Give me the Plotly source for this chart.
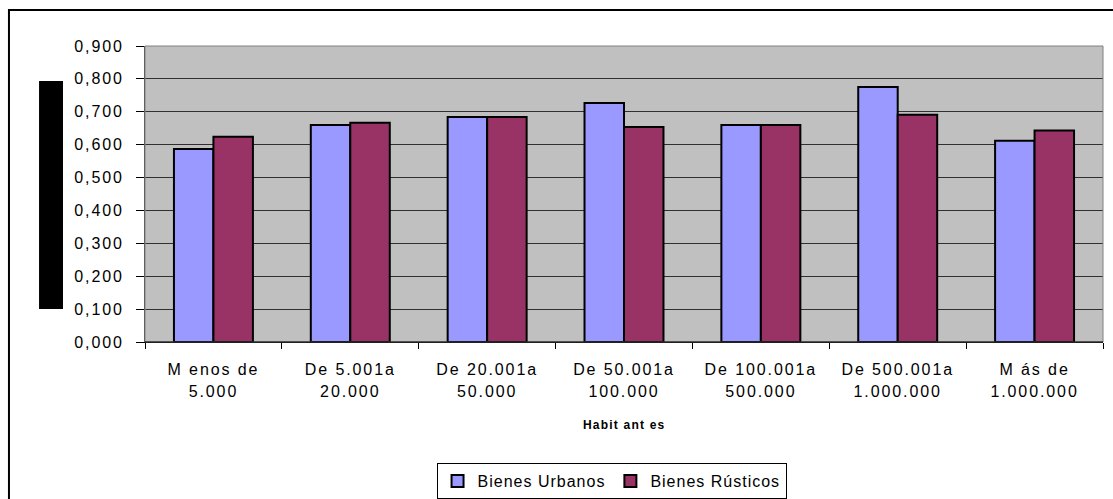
import plotly.graph_objects as go

# ── Data ──────────────────────────────────────────────────────────────────────
categorias = ["Menos de 5.000", "De 5.001a 20.000", "De 20.001a 50.000",
              "De 50.001a 100.000", "De 100.001a 500.000",
              "De 500.001a 1.000.000", "Más de 1.000.000"]
linea1 = ["M enos de", "De 5.001a", "De 20.001a", "De 50.001a",
          "De 100.001a", "De 500.001a", "M ás de"]
linea2 = ["5.000", "20.000", "50.000", "100.000", "500.000",
          "1.000.000", "1.000.000"]
urbanos = [0.587, 0.660, 0.684, 0.727, 0.660, 0.775, 0.612]
rusticos = [0.624, 0.667, 0.684, 0.654, 0.660, 0.691, 0.643]
y_ticks = [0.0, 0.1, 0.2, 0.3, 0.4, 0.5, 0.6, 0.7, 0.8, 0.9]
y_labels = ["0,000", "0,100", "0,200", "0,300", "0,400",
            "0,500", "0,600", "0,700", "0,800", "0,900"]

FONT = "Liberation Sans, Arial, sans-serif"


def esp(t, px=1.9):
    """Excel-like wide letter spacing."""
    return f'<span style="letter-spacing:{px}px">{t}</span>'


fig = go.Figure()
fig.add_trace(go.Bar(
    x=categorias, y=urbanos, name=esp("Bienes Urbanos", 1.0),
    marker=dict(color="#9999ff", line=dict(color="black", width=2)),
))
fig.add_trace(go.Bar(
    x=categorias, y=rusticos, name=esp("Bienes Rústicos", 1.0),
    marker=dict(color="#993366", line=dict(color="black", width=2)),
))
# invisible trace carrying the second line of the category labels
fig.add_trace(go.Scatter(
    x=categorias, y=[None] * len(categorias), xaxis="x2",
    mode="markers", showlegend=False, hoverinfo="skip",
))

# ── Layout ────────────────────────────────────────────────────────────────────
fig.update_layout(
    width=1113, height=499,
    margin=dict(l=145, r=10, t=46, b=157),
    paper_bgcolor="white",
    plot_bgcolor="#c0c0c0",
    font=dict(family=FONT, size=16, color="black"),
    barmode="group",
    bargap=0.423,
    bargroupgap=0,
    showlegend=True,
    legend=dict(orientation="h", x=0.487, xanchor="center",
                yref="container", y=0.072, yanchor="top",
                bgcolor="white", bordercolor="black", borderwidth=1,
                font=dict(family=FONT, size=16), traceorder="normal",
                itemwidth=30, tracegroupgap=0),
    xaxis=dict(type="category", categoryorder="array", categoryarray=categorias,
               range=[-0.5, 6.5], tickmode="array", tickvals=categorias,
               ticktext=[esp(t) for t in linea1], tickson="boundaries",
               ticks="outside", ticklen=6, tickcolor="black", showline=True,
               linecolor="black", linewidth=1, showgrid=False,
               ticklabelstandoff=13, automargin=False,
               tickfont=dict(family=FONT, size=16)),
    xaxis2=dict(type="category", categoryorder="array", categoryarray=categorias,
                range=[-0.5, 6.5], overlaying="x", anchor="y", side="bottom",
                tickmode="array", tickvals=categorias,
                ticktext=[esp(t) for t in linea2],
                ticks="", showline=False, showgrid=False, automargin=False,
                ticklabelstandoff=38, tickfont=dict(family=FONT, size=16)),
    yaxis=dict(range=[0, 0.9], tickmode="array", tickvals=y_ticks,
               ticktext=[esp(t) for t in y_labels],
               ticks="outside", ticklen=8, tickcolor="black",
               showline=True, linecolor="#404040", linewidth=1,
               showgrid=True, gridcolor="#303030", gridwidth=1,
               zeroline=False, automargin=False, ticklabelstandoff=9,
               tickfont=dict(family=FONT, size=16)),
)

# plot area border (top / right) in grey
fig.add_shape(type="rect", xref="paper", yref="paper", x0=0, x1=1, y0=0, y1=1,
              line=dict(color="#808080", width=1), layer="above")
fig.add_shape(type="line", xref="paper", yref="paper", x0=0, x1=1, y0=0, y1=0,
              line=dict(color="black", width=1), layer="above")

# outer chart frame
fig.add_shape(type="rect", xref="paper", yref="paper",
              x0=-0.142, x1=1.02, y0=-0.6, y1=1.1216,
              line=dict(color="black", width=2))

# redacted y-axis title block
fig.add_shape(type="rect", xref="paper", yref="paper",
              x0=-0.1106, x1=-0.0856, y0=0.1115, y1=0.8818,
              fillcolor="black", line=dict(width=0))

fig.add_annotation(text=esp("<b>Habit ant es</b>", 1.2), xref="paper",
                   yref="paper", x=0.5, y=-0.28, showarrow=False,
                   yanchor="middle",
                   font=dict(family=FONT, size=12, color="black"))

fig.write_html("out.html", config={"displayModeBar": False},
               post_script="document.body.style.margin='0';")
